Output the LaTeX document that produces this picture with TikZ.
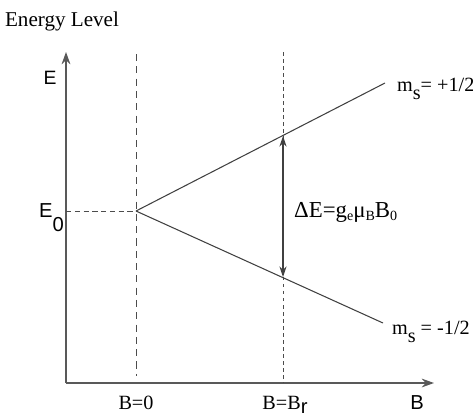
\documentclass[tikz,border=0pt]{standalone}
\usepackage{fontspec}
\setmainfont{Liberation Serif}
\setsansfont{Liberation Sans}
\usetikzlibrary{arrows.meta}

\begin{document}
\begin{tikzpicture}[x=0.02cm, y=-0.02cm,
    axis/.style={draw=black!65, thick, -{Stealth[length=7pt,width=5pt]}},
    level/.style={draw=black!75, semithick},
    guide/.style={draw=black!70, dashed},
    lbl/.style={font=\fontsize{11.5}{13}\selectfont, inner sep=1pt}]

    \useasboundingbox (0,0) rectangle (473,417);

    % axes and points
    \coordinate (origin) at (66,383);
    \coordinate (ytop) at (66,52);
    \coordinate (xend) at (434,383);
    \coordinate (split) at (136,211);
    \coordinate (e0) at (66,211);
    \coordinate (upend) at (385,83);
    \coordinate (lowend) at (383,323);
    \coordinate (zerotop) at (136,54);
    \coordinate (zerobot) at (136,376);
    \coordinate (restop) at (283,52);
    \coordinate (resbot) at (283,383);
    \coordinate (up) at (283,136);
    \coordinate (low) at (283,277);

    \draw[axis] (origin) -- (ytop);
    \draw[axis] (origin) -- (xend);
    \draw[guide, dash pattern=on 4pt off 3pt] (zerotop) -- (zerobot);
    \draw[guide, dash pattern=on 2pt off 2pt] (restop) -- (resbot);
    \draw[guide, dash pattern=on 3pt off 2pt] (e0) -- (split);
    \draw[level] (split) -- (upend);
    \draw[level] (split) -- (lowend);
    \draw[draw=black!75, semithick, {Stealth[length=6pt,width=4pt]}-{Stealth[length=6pt,width=4pt]}] (up) -- (low);

    % labels
    \node[lbl, font=\fontsize{12}{14}\selectfont] (title) at (62,21) {Energy Level};
    \node[lbl, font=\sffamily\fontsize{11}{13}\selectfont] (elabel) at (50,78) {E};
    \node[lbl, font=\sffamily\fontsize{11.5}{13}\selectfont, anchor=base west] (e0label) at (37,217) {E\raisebox{-1.4ex}{0}};
    \node[lbl, anchor=west] (msup) at (395,89) {m\raisebox{-0.8ex}{s}= +1/2};
    \node[lbl, anchor=west] (msdown) at (390,332) {m\raisebox{-0.8ex}{s} = -1/2};
    \node[lbl, anchor=west, font=\fontsize{13}{15}\selectfont] (delta) at (292,212)
        {ΔE=g{\fontsize{8}{9}\selectfont\raisebox{-0.6ex}{e}}μ{\fontsize{8}{9}\selectfont\raisebox{-0.6ex}{B}}B{\fontsize{8}{9}\selectfont\raisebox{-0.6ex}{0}}};
    \node[lbl, anchor=base] (bzero) at (136,409) {B=0};
    \node[lbl, anchor=base] (bres) at (285,409) {B=B\raisebox{-0.5ex}{\sffamily r}};
    \node[lbl, font=\sffamily\fontsize{11.5}{13}\selectfont, anchor=base] (blabel) at (417,409) {B};
\end{tikzpicture}
\end{document}
